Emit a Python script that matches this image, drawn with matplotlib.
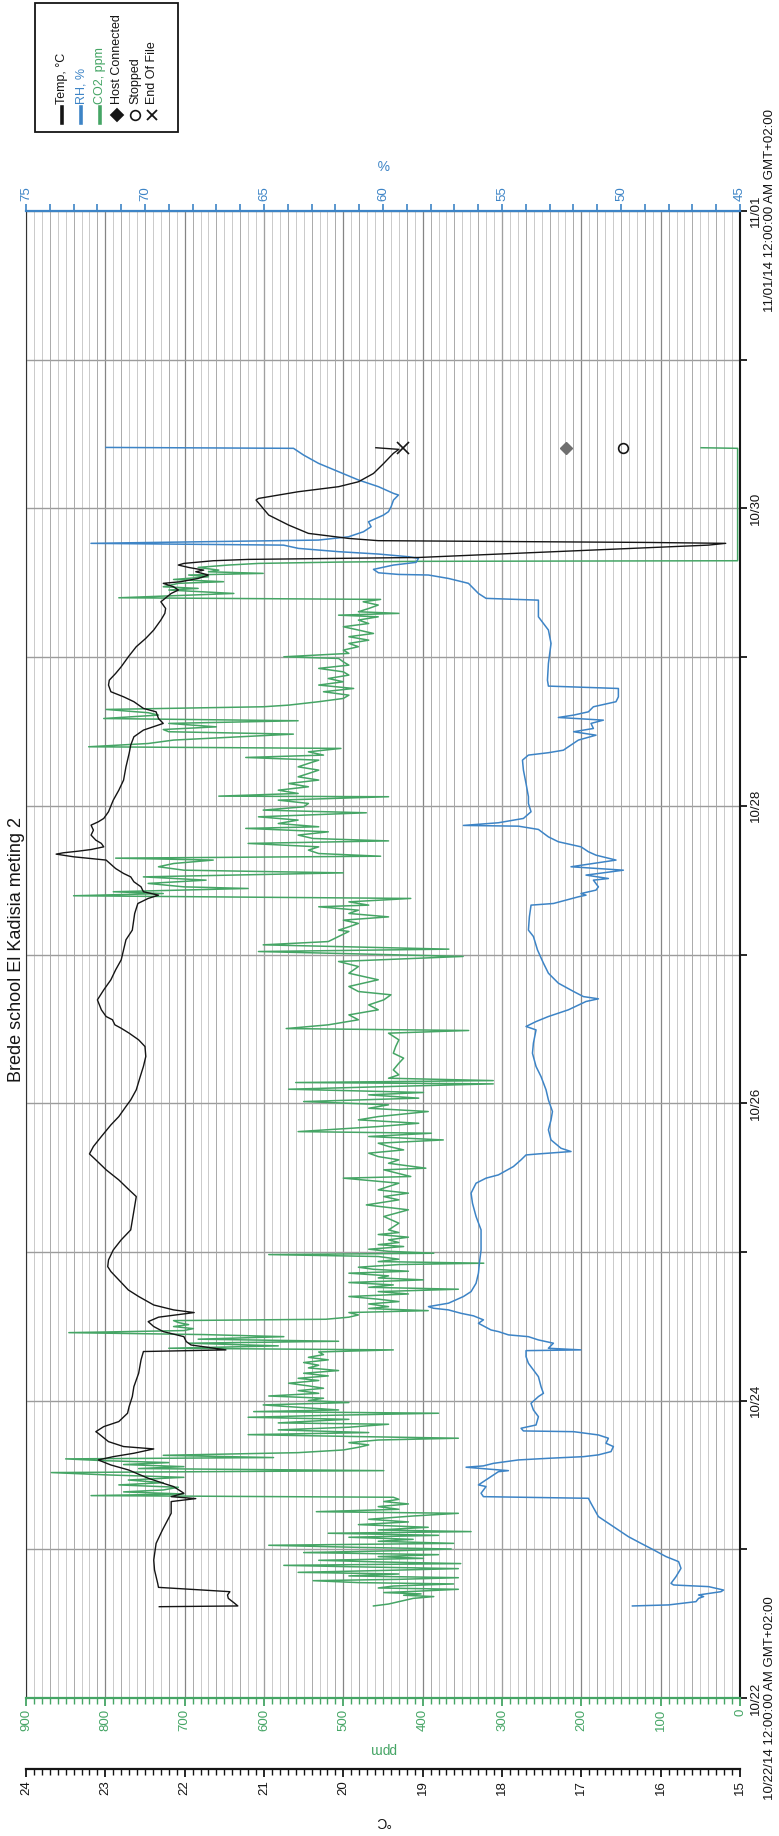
import numpy as np
import matplotlib.pyplot as plt
from matplotlib.lines import Line2D
from matplotlib.patches import Rectangle
from matplotlib.ticker import MultipleLocator

plt.rcParams['font.family'] = ['Liberation Sans', 'DejaVu Sans']

# time = days after 10/22/14 12:00:00 AM
temp_pts = [
    (0.614, 22.32), (0.619, 21.33), (0.641, 21.38), (0.670, 21.45), (0.693, 21.46), (0.715, 21.43),
    (0.744, 22.33), (0.771, 22.34), (0.861, 22.38), (0.928, 22.39), (1.040, 22.36), (1.130, 22.28),
    (1.242, 22.17), (1.321, 22.17), (1.341, 21.86), (1.354, 22.17), (1.377, 22.01), (1.422, 22.14),
    (1.444, 22.27), (1.478, 22.46), (1.534, 22.71), (1.567, 22.93), (1.601, 23.09), (1.623, 22.90),
    (1.646, 22.64), (1.675, 22.39), (1.691, 22.77), (1.724, 22.96), (1.780, 23.09), (1.791, 23.12),
    (1.825, 23.02), (1.859, 22.83), (1.915, 22.72), (1.960, 22.70), (2.027, 22.66), (2.094, 22.64),
    (2.184, 22.58), (2.274, 22.55), (2.330, 22.52), (2.341, 21.48), (2.374, 21.92), (2.397, 21.98),
    (2.430, 22.01), (2.464, 22.27), (2.498, 22.39), (2.531, 22.46), (2.561, 22.33), (2.592, 21.88),
    (2.610, 22.14), (2.643, 22.39), (2.700, 22.58), (2.744, 22.71), (2.812, 22.83), (2.868, 22.93),
    (2.901, 22.97), (2.946, 22.96), (3.013, 22.90), (3.081, 22.80), (3.148, 22.68), (3.372, 22.61),
    (3.417, 22.70), (3.484, 22.83), (3.552, 22.99), (3.619, 23.12), (3.659, 23.20), (3.709, 23.15),
    (3.776, 23.05), (3.854, 22.93), (3.910, 22.83), (3.978, 22.74), (4.022, 22.68), (4.090, 22.61),
    (4.179, 22.56), (4.247, 22.52), (4.314, 22.49), (4.381, 22.50), (4.426, 22.58), (4.471, 22.70),
    (4.504, 22.80), (4.527, 22.88), (4.561, 22.91), (4.583, 22.99), (4.628, 23.05), (4.695, 23.10),
    (4.762, 23.02), (4.830, 22.93), (4.897, 22.87), (4.964, 22.80), (5.031, 22.77), (5.099, 22.74),
    (5.164, 22.66), (5.276, 22.63), (5.343, 22.59), (5.377, 22.46), (5.399, 22.33), (5.422, 22.52),
    (5.455, 22.55), (5.489, 22.64), (5.522, 22.68), (5.545, 22.77), (5.578, 22.87), (5.635, 22.99),
    (5.657, 23.40), (5.675, 23.62), (5.684, 23.53), (5.695, 23.34), (5.706, 23.18), (5.724, 23.02),
    (5.747, 23.05), (5.769, 23.12), (5.803, 23.18), (5.836, 23.15), (5.870, 23.18), (5.892, 23.09),
    (5.915, 23.02), (5.960, 22.96), (6.038, 22.90), (6.105, 22.83), (6.173, 22.77), (6.262, 22.74),
    (6.352, 22.70), (6.408, 22.68), (6.464, 22.64), (6.509, 22.52), (6.554, 22.27), (6.587, 22.33),
    (6.632, 22.36), (6.655, 22.52), (6.700, 22.64), (6.733, 22.77), (6.767, 22.93), (6.812, 22.96),
    (6.845, 22.95), (6.890, 22.87), (6.935, 22.80), (7.002, 22.71), (7.070, 22.61), (7.126, 22.49),
    (7.182, 22.39), (7.249, 22.30), (7.294, 22.25), (7.327, 22.24), (7.372, 22.30), (7.428, 22.17),
    (7.451, 22.08), (7.473, 22.14), (7.496, 22.27), (7.507, 22.05), (7.529, 21.83), (7.552, 21.70),
    (7.574, 21.86), (7.585, 21.76), (7.603, 21.95), (7.619, 22.08), (7.630, 22.01), (7.648, 21.64),
    (7.657, 21.20), (7.670, 19.05), (7.753, 15.40), (7.765, 15.18), (7.771, 16.15), (7.783, 19.56),
    (7.798, 19.93), (7.832, 20.44), (7.888, 20.69), (7.955, 20.94), (8.056, 21.10), (8.067, 21.07),
    (8.112, 20.57), (8.146, 20.06), (8.179, 19.81), (8.235, 19.62), (8.303, 19.49), (8.370, 19.37),
    (8.397, 19.30), (8.408, 19.59),
]

rh_pts = [
    (0.619, 49.52), (0.626, 48.00), (0.648, 46.85), (0.670, 46.74), (0.682, 46.53), (0.693, 46.74),
    (0.715, 45.80), (0.726, 45.69), (0.749, 46.32), (0.760, 47.79), (0.771, 47.90), (0.816, 47.69),
    (0.872, 47.48), (0.917, 47.58), (0.951, 48.11), (0.996, 48.63), (1.040, 49.16), (1.085, 49.69),
    (1.130, 50.11), (1.220, 50.95), (1.309, 51.26), (1.343, 51.37), (1.354, 55.78), (1.377, 55.88),
    (1.422, 55.67), (1.433, 55.99), (1.500, 55.36), (1.522, 55.15), (1.529, 54.73), (1.538, 55.46),
    (1.552, 56.51), (1.561, 55.78), (1.578, 55.36), (1.601, 54.31), (1.612, 53.05), (1.623, 51.58),
    (1.635, 50.95), (1.657, 50.42), (1.691, 50.32), (1.713, 50.63), (1.747, 50.53), (1.769, 50.95),
    (1.791, 51.99), (1.796, 54.10), (1.814, 54.20), (1.836, 53.57), (1.892, 53.47), (1.937, 53.68),
    (1.982, 53.78), (2.027, 53.47), (2.049, 53.26), (2.094, 53.36), (2.161, 53.47), (2.206, 53.68),
    (2.251, 53.89), (2.296, 53.99), (2.336, 53.99), (2.341, 51.68), (2.352, 53.05), (2.386, 52.84),
    (2.408, 53.47), (2.430, 53.89), (2.442, 54.73), (2.464, 55.15), (2.475, 55.46), (2.520, 55.99),
    (2.543, 55.78), (2.570, 56.20), (2.587, 56.72), (2.610, 57.25), (2.621, 57.88), (2.632, 58.09),
    (2.655, 57.25), (2.700, 56.62), (2.733, 56.30), (2.789, 56.09), (2.857, 55.99), (2.924, 55.95),
    (3.013, 55.88), (3.148, 55.88), (3.238, 56.09), (3.327, 56.24), (3.395, 56.30), (3.462, 56.09),
    (3.496, 55.67), (3.518, 55.15), (3.574, 54.52), (3.619, 54.20), (3.652, 53.99), (3.659, 53.47),
    (3.675, 52.10), (3.697, 52.52), (3.753, 52.94), (3.821, 53.05), (3.888, 52.94), (3.944, 52.88),
    (4.022, 53.05), (4.090, 53.15), (4.179, 53.36), (4.247, 53.57), (4.336, 53.72), (4.404, 53.68),
    (4.493, 53.57), (4.516, 53.99), (4.549, 53.57), (4.583, 53.05), (4.628, 52.21), (4.684, 51.47),
    (4.702, 50.95), (4.717, 51.58), (4.751, 51.99), (4.807, 52.63), (4.874, 53.05), (4.942, 53.26),
    (5.031, 53.51), (5.121, 53.68), (5.164, 53.89), (5.253, 53.85), (5.332, 53.78), (5.343, 52.84),
    (5.388, 51.79), (5.399, 51.47), (5.410, 51.68), (5.433, 51.05), (5.455, 50.95), (5.500, 51.16),
    (5.511, 50.53), (5.534, 51.47), (5.567, 49.90), (5.578, 50.95), (5.590, 52.10), (5.635, 50.21),
    (5.668, 51.05), (5.691, 51.37), (5.724, 51.68), (5.758, 52.63), (5.791, 53.05), (5.841, 53.47),
    (5.863, 54.31), (5.868, 56.62), (5.886, 55.15), (5.915, 54.10), (5.960, 53.78), (6.016, 53.89),
    (6.061, 53.89), (6.150, 53.99), (6.240, 54.10), (6.307, 54.14), (6.341, 53.89), (6.357, 53.05),
    (6.374, 52.42), (6.397, 52.21), (6.442, 51.79), (6.475, 51.05), (6.498, 51.99), (6.520, 51.16),
    (6.554, 51.26), (6.576, 50.74), (6.594, 52.63), (6.610, 51.99), (6.632, 51.37), (6.666, 51.16),
    (6.700, 50.21), (6.733, 50.11), (6.789, 50.11), (6.805, 53.05), (6.845, 53.09), (6.957, 53.05),
    (7.092, 52.94), (7.182, 53.05), (7.271, 53.47), (7.383, 53.47), (7.395, 55.67), (7.428, 55.99),
    (7.496, 56.41), (7.529, 57.25), (7.552, 58.09), (7.556, 59.35), (7.567, 60.19), (7.590, 60.40),
    (7.619, 59.56), (7.637, 58.61), (7.664, 58.51), (7.675, 58.93), (7.693, 60.19), (7.709, 61.87),
    (7.731, 63.55), (7.753, 64.18), (7.765, 72.27), (7.787, 62.71), (7.809, 61.45), (7.843, 60.82),
    (7.877, 60.50), (7.910, 60.61), (7.933, 60.29), (7.955, 59.98), (7.978, 59.77), (8.011, 59.66),
    (8.056, 59.56), (8.090, 59.35), (8.101, 59.56), (8.146, 60.19), (8.191, 61.03), (8.247, 61.87),
    (8.303, 62.71), (8.359, 63.34), (8.404, 63.76), (8.410, 71.64),
]

co2_pts = [
    (0.619, 462), (0.632, 443), (0.648, 430), (0.670, 412), (0.682, 386), (0.691, 424), (0.700, 402),
    (0.709, 449), (0.717, 412), (0.731, 355), (0.740, 456), (0.753, 437), (0.767, 361), (0.776, 481),
    (0.789, 538), (0.798, 430), (0.809, 355), (0.821, 493), (0.834, 430), (0.845, 557), (0.857, 456),
    (0.870, 355), (0.883, 493), (0.892, 575), (0.904, 352), (0.915, 456), (0.926, 531), (0.939, 399),
    (0.951, 456), (0.964, 380), (0.978, 550), (0.991, 430), (1.002, 364), (1.013, 481), (1.027, 594),
    (1.040, 361), (1.054, 456), (1.067, 412), (1.081, 493), (1.094, 380), (1.108, 519), (1.119, 339),
    (1.130, 456), (1.148, 393), (1.166, 481), (1.184, 418), (1.202, 468), (1.224, 412), (1.242, 355),
    (1.253, 534), (1.269, 430), (1.287, 456), (1.305, 418), (1.321, 449), (1.336, 430), (1.350, 437),
    (1.361, 818), (1.372, 701), (1.386, 777), (1.399, 727), (1.417, 708), (1.433, 783), (1.448, 727),
    (1.466, 771), (1.484, 701), (1.500, 796), (1.516, 868), (1.529, 449), (1.543, 758), (1.556, 701),
    (1.570, 777), (1.583, 720), (1.596, 802), (1.608, 850), (1.617, 588), (1.632, 727), (1.650, 557),
    (1.668, 500), (1.686, 481), (1.702, 468), (1.717, 493), (1.735, 456), (1.747, 355), (1.758, 481),
    (1.771, 620), (1.785, 468), (1.803, 582), (1.821, 493), (1.841, 443), (1.850, 582), (1.861, 544),
    (1.874, 493), (1.888, 620), (1.901, 519), (1.915, 380), (1.926, 613), (1.937, 506), (1.955, 557),
    (1.971, 601), (1.987, 493), (2.000, 544), (2.016, 525), (2.031, 594), (2.049, 531), (2.067, 557),
    (2.083, 525), (2.099, 544), (2.117, 569), (2.135, 531), (2.150, 557), (2.166, 519), (2.184, 550),
    (2.202, 506), (2.220, 544), (2.238, 531), (2.256, 550), (2.274, 519), (2.291, 544), (2.309, 525),
    (2.327, 531), (2.341, 437), (2.352, 720), (2.368, 582), (2.386, 695), (2.399, 506), (2.413, 683),
    (2.430, 575), (2.444, 676), (2.457, 846), (2.471, 701), (2.484, 689), (2.498, 714), (2.511, 695),
    (2.525, 708), (2.538, 714), (2.547, 522), (2.561, 493), (2.576, 481), (2.592, 493), (2.605, 393),
    (2.619, 468), (2.632, 443), (2.650, 468), (2.666, 430), (2.682, 456), (2.700, 493), (2.717, 418),
    (2.733, 456), (2.749, 355), (2.762, 468), (2.778, 437), (2.794, 493), (2.812, 399), (2.825, 456),
    (2.839, 443), (2.857, 493), (2.870, 418), (2.883, 462), (2.897, 481), (2.915, 430), (2.924, 323),
    (2.935, 456), (2.951, 430), (2.969, 456), (2.982, 594), (2.991, 386), (3.004, 443), (3.018, 468),
    (3.036, 424), (3.049, 456), (3.063, 430), (3.081, 443), (3.099, 418), (3.117, 456), (3.130, 430),
    (3.148, 443), (3.193, 430), (3.238, 449), (3.283, 418), (3.316, 471), (3.350, 430), (3.372, 449),
    (3.395, 418), (3.417, 456), (3.462, 430), (3.496, 500), (3.507, 415), (3.552, 449), (3.563, 396),
    (3.596, 443), (3.619, 430), (3.641, 456), (3.664, 468), (3.686, 424), (3.709, 443), (3.731, 456),
    (3.753, 374), (3.776, 468), (3.798, 389), (3.809, 557), (3.843, 456), (3.865, 405), (3.888, 481),
    (3.910, 456), (3.944, 393), (3.966, 468), (3.989, 443), (4.011, 550), (4.034, 405), (4.056, 468),
    (4.072, 399), (4.094, 569), (4.112, 443), (4.130, 311), (4.139, 560), (4.152, 311), (4.168, 443),
    (4.191, 430), (4.224, 437), (4.269, 430), (4.303, 424), (4.336, 437), (4.381, 434), (4.426, 430),
    (4.471, 443), (4.489, 342), (4.502, 572), (4.527, 519), (4.561, 481), (4.594, 493), (4.628, 456),
    (4.661, 468), (4.695, 449), (4.729, 440), (4.751, 481), (4.785, 493), (4.830, 456), (4.874, 493),
    (4.919, 481), (4.953, 506), (4.987, 349), (5.020, 607), (5.036, 367), (5.065, 601), (5.087, 519),
    (5.121, 506), (5.155, 493), (5.164, 506), (5.186, 493), (5.209, 481), (5.231, 500), (5.253, 443),
    (5.276, 493), (5.298, 481), (5.321, 531), (5.332, 468), (5.354, 493), (5.377, 415), (5.395, 840),
    (5.410, 727), (5.422, 790), (5.444, 620), (5.455, 701), (5.478, 746), (5.500, 673), (5.522, 752),
    (5.549, 500), (5.567, 701), (5.590, 733), (5.612, 714), (5.635, 664), (5.648, 787), (5.661, 453),
    (5.679, 531), (5.702, 544), (5.724, 531), (5.747, 620), (5.764, 443), (5.780, 538), (5.803, 557),
    (5.825, 519), (5.848, 623), (5.859, 531), (5.881, 582), (5.904, 557), (5.926, 607), (5.953, 471),
    (5.971, 601), (5.993, 550), (6.016, 544), (6.038, 582), (6.061, 443), (6.065, 657), (6.083, 557),
    (6.105, 582), (6.128, 544), (6.150, 569), (6.173, 531), (6.195, 557), (6.217, 544), (6.240, 531),
    (6.262, 557), (6.285, 544), (6.307, 531), (6.325, 623), (6.341, 525), (6.363, 544), (6.386, 503),
    (6.397, 821), (6.419, 746), (6.442, 714), (6.464, 632), (6.482, 563), (6.498, 720), (6.513, 727),
    (6.531, 660), (6.554, 720), (6.572, 557), (6.587, 802), (6.610, 733), (6.626, 746), (6.648, 799),
    (6.666, 601), (6.677, 569), (6.700, 531), (6.722, 500), (6.744, 493), (6.767, 525), (6.789, 487),
    (6.812, 531), (6.834, 500), (6.856, 519), (6.879, 493), (6.901, 500), (6.924, 531), (6.946, 493),
    (6.968, 500), (6.991, 506), (7.002, 575), (7.025, 493), (7.047, 500), (7.070, 481), (7.092, 493),
    (7.114, 468), (7.137, 493), (7.159, 462), (7.182, 481), (7.204, 500), (7.226, 468), (7.249, 481),
    (7.271, 456), (7.282, 506), (7.294, 430), (7.305, 481), (7.327, 468), (7.350, 456), (7.372, 475),
    (7.388, 453), (7.399, 783), (7.410, 727), (7.428, 638), (7.451, 720), (7.462, 683), (7.473, 727),
    (7.496, 708), (7.507, 651), (7.522, 714), (7.540, 670), (7.552, 695), (7.563, 601), (7.574, 670),
    (7.585, 657), (7.603, 683), (7.619, 645), (7.630, 607), (7.639, 506), (7.644, 405), (7.648, 3),
    (8.404, 3), (8.408, 49),
]

# logger events (all at end of the record)
event_day = 8.408
end_of_file_temp = 19.25
host_connected_ppm = 219
stopped_ppm = 147

day_names = ['10/22', '10/23', '10/24', '10/25', '10/26', '10/27',
             '10/28', '10/29', '10/30', '10/31', '11/01']
first_stamp = '10/22/14 12:00:00 AM GMT+02:00'
last_stamp = '11/01/14 12:00:00 AM GMT+02:00'

BLACK = '#151515'
BLUE = '#3d84c6'
GREEN = '#45a565'

temp_day, temp_c = zip(*temp_pts)
rh_day, rh_pct = zip(*rh_pts)
co2_day, co2_ppm = zip(*co2_pts)

W, H = 779, 1836
fig = plt.figure(figsize=(W / 100, H / 100), dpi=100)
ax = fig.add_axes([26 / W, 1 - 1698 / H, 714 / W, 1487 / H])

# main axes: ppm horizontally (900 at the left), time upwards
ax.set_xlim(900, 0)
ax.set_ylim(0, 10)
ax.xaxis.set_major_locator(MultipleLocator(100))
ax.xaxis.set_minor_locator(MultipleLocator(10))
ax.yaxis.set_major_locator(MultipleLocator(1))
ax.set_axisbelow(True)
ax.grid(which='minor', axis='x', color='#c2c2c2', lw=0.6)
ax.grid(which='major', axis='x', color='#858585', lw=0.9)
ax.grid(which='major', axis='y', color='#9c9c9c', lw=1.0)
for v in np.arange(0, 901, 30):  # % grid (1 % = 30 ppm)
    ax.axvline(v, color='#a6a6a6', lw=0.6, zorder=0.6)

ax.tick_params(axis='x', which='both', direction='out', colors=GREEN,
               labelsize=9.5, labelrotation=90, pad=2)
ax.tick_params(axis='x', which='major', length=6, width=1.3)
ax.tick_params(axis='x', which='minor', length=4, width=1.0)
ax.set_xlabel('ppm', color=GREEN, rotation=180, fontsize=10, labelpad=8)

ax.yaxis.tick_right()
ticklabels = []
for i, name in enumerate(day_names):
    if i == 0:
        ticklabels.append(name + '\n' + first_stamp)
    elif i == len(day_names) - 1:
        ticklabels.append(name + '\n' + last_stamp)
    elif i % 2 == 0:
        ticklabels.append(name)
    else:
        ticklabels.append('')
ax.set_yticks(range(len(day_names)))
ax.set_yticklabels(ticklabels, rotation=90, va='center', multialignment='center', fontsize=9.5)
ax.tick_params(axis='y', direction='out', length=5, width=1.3, pad=2, colors=BLACK)

ax.spines['top'].set_visible(False)
ax.spines['bottom'].set_color(GREEN)
ax.spines['bottom'].set_linewidth(1.6)
ax.spines['right'].set_color(BLACK)
ax.spines['right'].set_linewidth(1.5)
ax.spines['left'].set_color('#333333')
ax.spines['left'].set_linewidth(0.8)

ax.plot(co2_ppm, co2_day, color=GREEN, lw=1.1)
ax.plot([host_connected_ppm], [event_day], ls='none', marker='D', color='#6f6f6f', ms=6)
ax.plot([stopped_ppm], [event_day], ls='none', marker='o', mfc='none', mec=BLACK, mew=1.2, ms=7)

# RH axis along the top
ax_rh = ax.twiny()
ax_rh.set_xlim(75, 45)
ax_rh.xaxis.set_major_locator(MultipleLocator(5))
ax_rh.xaxis.set_minor_locator(MultipleLocator(1))
ax_rh.tick_params(axis='x', which='both', direction='out', colors=BLUE,
                  labelsize=9.5, labelrotation=90, pad=2, length=5, width=1.2)
for s in ['left', 'right', 'bottom']:
    ax_rh.spines[s].set_visible(False)
ax_rh.spines['top'].set_color(BLUE)
ax_rh.spines['top'].set_linewidth(1.6)
ax_rh.set_xlabel('%', color=BLUE, rotation=180, fontsize=10, labelpad=14)
ax_rh.plot(rh_pct, rh_day, color=BLUE, lw=1.1)

# temperature axis, detached below the ppm axis
ax_t = ax.twiny()
ax_t.set_xlim(24, 15)
ax_t.xaxis.set_ticks_position('bottom')
ax_t.xaxis.set_label_position('bottom')
ax_t.spines['bottom'].set_position(('outward', 51))
for s in ['left', 'right', 'top']:
    ax_t.spines[s].set_visible(False)
ax_t.spines['bottom'].set_color(BLACK)
ax_t.spines['bottom'].set_linewidth(1.6)
ax_t.xaxis.set_major_locator(MultipleLocator(1))
ax_t.xaxis.set_minor_locator(MultipleLocator(0.1))
ax_t.tick_params(axis='x', which='both', direction='out', colors=BLACK,
                 labelsize=9.5, labelrotation=90, pad=2)
ax_t.tick_params(axis='x', which='major', length=6, width=1.3)
ax_t.tick_params(axis='x', which='minor', length=4, width=1.0)
ax_t.set_xlabel('°C', color=BLACK, rotation=180, fontsize=10, labelpad=14)
ax_t.plot(temp_c, temp_day, color=BLACK, lw=1.0)
ax_t.plot([end_of_file_temp], [event_day], ls='none', marker='x', color=BLACK, ms=8, mew=1.2)

# title, written sideways like the rest of the page
fig.text(17 / W, 1 - 950 / H, 'Brede school El Kadisia meting 2', rotation=90,
         ha='center', va='center', fontsize=13, color=BLACK)

# legend box (rotated)
fig.add_artist(Rectangle((35 / W, 1 - 132 / H), 143 / W, 129 / H, transform=fig.transFigure,
                         fill=False, ec=BLACK, lw=1.3))
legend_items = [
    ('line', BLACK, 'Temp, °C', BLACK),
    ('line', BLUE, 'RH, %', BLUE),
    ('line', GREEN, 'CO2, ppm', GREEN),
    ('D', BLACK, 'Host Connected', BLACK),
    ('o', BLACK, 'Stopped', BLACK),
    ('x', BLACK, 'End Of File', BLACK),
]
cols = [62, 81, 100, 117, 135, 152]
for px, (kind, c, label, tc) in zip(cols, legend_items):
    x = px / W
    if kind == 'line':
        fig.add_artist(Line2D([x, x], [1 - 123 / H, 1 - 107 / H], transform=fig.transFigure,
                              color=c, lw=2.6))
    elif kind == 'o':
        fig.add_artist(Line2D([x], [1 - 115 / H], transform=fig.transFigure, ls='none',
                              marker='o', mfc='none', mec=c, mew=1.2, ms=7))
    else:
        fig.add_artist(Line2D([x], [1 - 115 / H], transform=fig.transFigure, ls='none',
                              marker=kind, color=c, mew=1.3, ms=7 if kind == 'x' else 6))
    fig.text(x, 1 - 104 / H, label, rotation=90, rotation_mode='anchor',
             ha='left', va='center', fontsize=9, color=tc)

fig.savefig('out.png', dpi=100)
